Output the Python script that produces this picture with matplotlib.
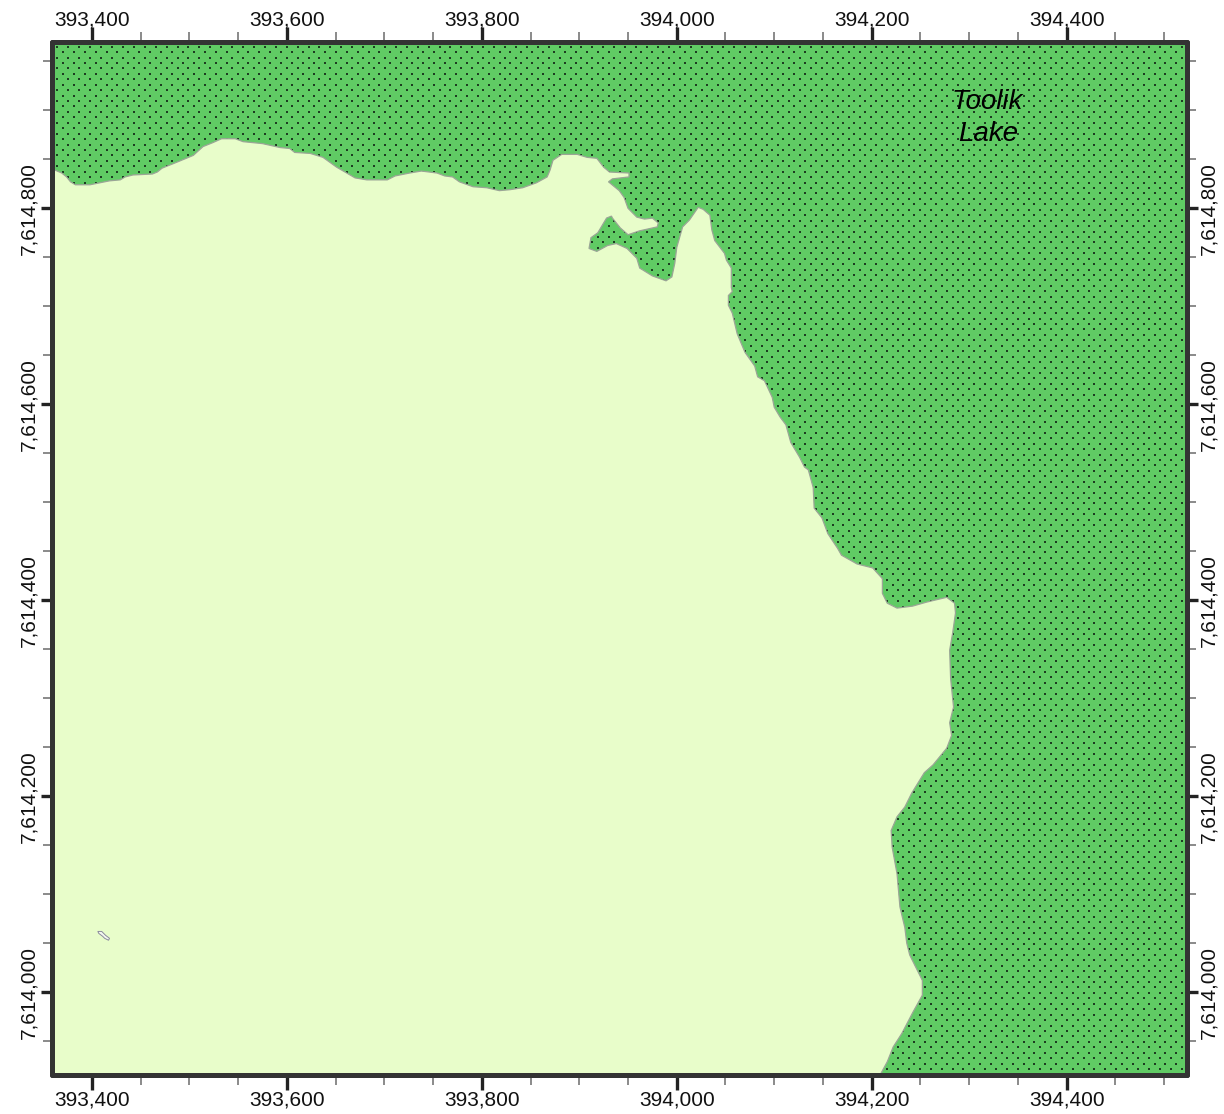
import matplotlib
matplotlib.use('Agg')
import matplotlib.pyplot as plt
import numpy as np
from matplotlib.ticker import FuncFormatter, MultipleLocator

plt.rcParams['font.family'] = ['Liberation Sans', 'DejaVu Sans']

# shoreline of the land, map metres, west edge round to the south edge
shore_e = [393350, 393362, 393369, 393374, 393378, 393383, 393398, 393408, 393418, 393429,
           393434, 393442, 393462, 393467, 393472, 393487, 393504, 393514, 393524, 393533,
           393547, 393555, 393575, 393593, 393603, 393608, 393624, 393637, 393651, 393670,
           393682, 393703, 393711, 393726, 393738, 393754, 393762, 393770, 393777, 393791,
           393805, 393818, 393829, 393842, 393856, 393867, 393870, 393873, 393882, 393898,
           393908, 393918, 393925, 393931, 393951, 393951, 393934, 393930, 393941, 393946,
           393950, 393959, 393967, 393975, 393981, 393980, 393962, 393950, 393942, 393934,
           393933, 393928, 393919, 393912, 393910, 393918, 393929, 393938, 393949, 393959,
           393962, 393975, 393989, 393995, 393998, 394000, 394006, 394013, 394022, 394027,
           394034, 394036, 394039, 394049, 394051, 394056, 394056, 394057, 394053, 394053,
           394057, 394062, 394070, 394080, 394083, 394090, 394098, 394100, 394106, 394112,
           394117, 394126, 394131, 394135, 394140, 394141, 394149, 394155, 394165, 394169,
           394185, 394201, 394211, 394211, 394216, 394226, 394242, 394256, 394277, 394285,
           394286, 394283, 394280, 394281, 394284, 394280, 394282, 394277, 394263, 394254,
           394241, 394234, 394226, 394220, 394221, 394226, 394229, 394234, 394236, 394239,
           394252, 394252, 394242, 394231, 394222, 394216, 394210, 394208, 393350]
shore_n = [7614840, 7614839, 7614836, 7614832, 7614827, 7614824, 7614824, 7614826, 7614828, 7614829,
           7614832, 7614834, 7614835, 7614837, 7614841, 7614847, 7614854, 7614863, 7614867, 7614871,
           7614871, 7614868, 7614866, 7614862, 7614861, 7614857, 7614856, 7614852, 7614842, 7614831,
           7614829, 7614829, 7614833, 7614836, 7614838, 7614836, 7614833, 7614832, 7614827, 7614822,
           7614821, 7614818, 7614819, 7614821, 7614826, 7614832, 7614839, 7614849, 7614855, 7614855,
           7614852, 7614851, 7614842, 7614837, 7614836, 7614832, 7614830, 7614827, 7614818, 7614811,
           7614800, 7614791, 7614789, 7614790, 7614785, 7614781, 7614777, 7614773, 7614780, 7614790,
           7614792, 7614790, 7614775, 7614770, 7614759, 7614756, 7614762, 7614764, 7614759, 7614749,
           7614739, 7614731, 7614726, 7614730, 7614744, 7614760, 7614781, 7614788, 7614801, 7614799,
           7614793, 7614778, 7614767, 7614754, 7614747, 7614739, 7614719, 7614715, 7614711, 7614701,
           7614693, 7614672, 7614653, 7614639, 7614628, 7614624, 7614607, 7614597, 7614587, 7614579,
           7614561, 7614546, 7614536, 7614533, 7614515, 7614494, 7614484, 7614468, 7614453, 7614446,
           7614437, 7614433, 7614422, 7614407, 7614397, 7614392, 7614394, 7614398, 7614403, 7614397,
           7614387, 7614366, 7614349, 7614320, 7614291, 7614275, 7614262, 7614249, 7614232, 7614224,
           7614203, 7614189, 7614179, 7614165, 7614148, 7614121, 7614087, 7614066, 7614050, 7614038,
           7614012, 7613997, 7613979, 7613958, 7613944, 7613929, 7613918, 7613914, 7613914]

# small pond in the south west
pond_e = [393406, 393410, 393414, 393418, 393417, 393413, 393411, 393407]
pond_n = [7614062, 7614062, 7614058, 7614055, 7614053, 7614055, 7614057, 7614060]

# scrap of shore on the west edge
notch_e = [393355, 393362, 393355]
notch_n = [7614914, 7614911, 7614908]

lake_name = 'Toolik\nLake'

water = '#60cb64'
land = '#e8fdca'
edge = '#9aa596'

fig = plt.figure(figsize=(12.24, 11.14), dpi=100)
ax = fig.add_axes([52 / 1224, 1 - 1074.5 / 1114, (1186.5 - 52) / 1224, (1074.5 - 41.7) / 1114])
ax.set_xlim(393359, 394523)
ax.set_ylim(7613916, 7614970)
ax.set_facecolor(water)

# stipple of the lake, staggered rows
de, dn = 11.2, 5.55
rows = np.arange(7613916, 7614970, dn)
for i, r in enumerate(rows):
    xs = np.arange(393359 + (i % 2) * de / 2, 394523, de)
    ax.scatter(xs, np.full(xs.shape, r), s=0.8, marker='s', color='#1c3d20', linewidths=0, zorder=1)

ax.fill(shore_e, shore_n, facecolor=land, edgecolor=edge, linewidth=0.9, zorder=2)
ax.fill(notch_e, notch_n, facecolor=land, edgecolor=edge, linewidth=0.6, zorder=2)
ax.fill(pond_e, pond_n, facecolor='#f4f8f0', edgecolor='#8a8a9c', linewidth=0.7, zorder=3)

ax.text(394319, 7614892, lake_name, style='italic', fontsize=20, ha='center', va='center',
        linespacing=1.3, color='black', zorder=4)

ax.xaxis.set_major_locator(MultipleLocator(200))
ax.xaxis.set_minor_locator(MultipleLocator(50))
ax.yaxis.set_major_locator(MultipleLocator(200))
ax.yaxis.set_minor_locator(MultipleLocator(50))
fmt = FuncFormatter(lambda v, p: format(int(v), ','))
ax.xaxis.set_major_formatter(fmt)
ax.yaxis.set_major_formatter(fmt)

ax.tick_params(which='major', width=2.4, color='#222222', top=True, right=True,
               labeltop=True, labelright=True, labelsize=15, labelcolor='#111111')
ax.tick_params(which='minor', width=1.2, color='#777777', top=True, right=True)
ax.tick_params(axis='x', which='major', length=10.5, pad=1)
ax.tick_params(axis='x', which='minor', length=7.5)
ax.tick_params(axis='y', which='major', length=8, pad=1.5, labelrotation=90)
ax.tick_params(axis='y', which='minor', length=6.5)
for t in ax.yaxis.get_major_ticks():
    t.label1.set_va('center')
    t.label2.set_va('center')
# top labels sit lower than matplotlib's default bottom alignment
for t in ax.xaxis.get_major_ticks():
    t.label2.set_va('baseline')

for s in ax.spines.values():
    s.set_linewidth(3.6)
    s.set_color('#333333')
    s.set_capstyle('round')
    s.set_zorder(6)

fig.savefig('out.png', dpi=100)
